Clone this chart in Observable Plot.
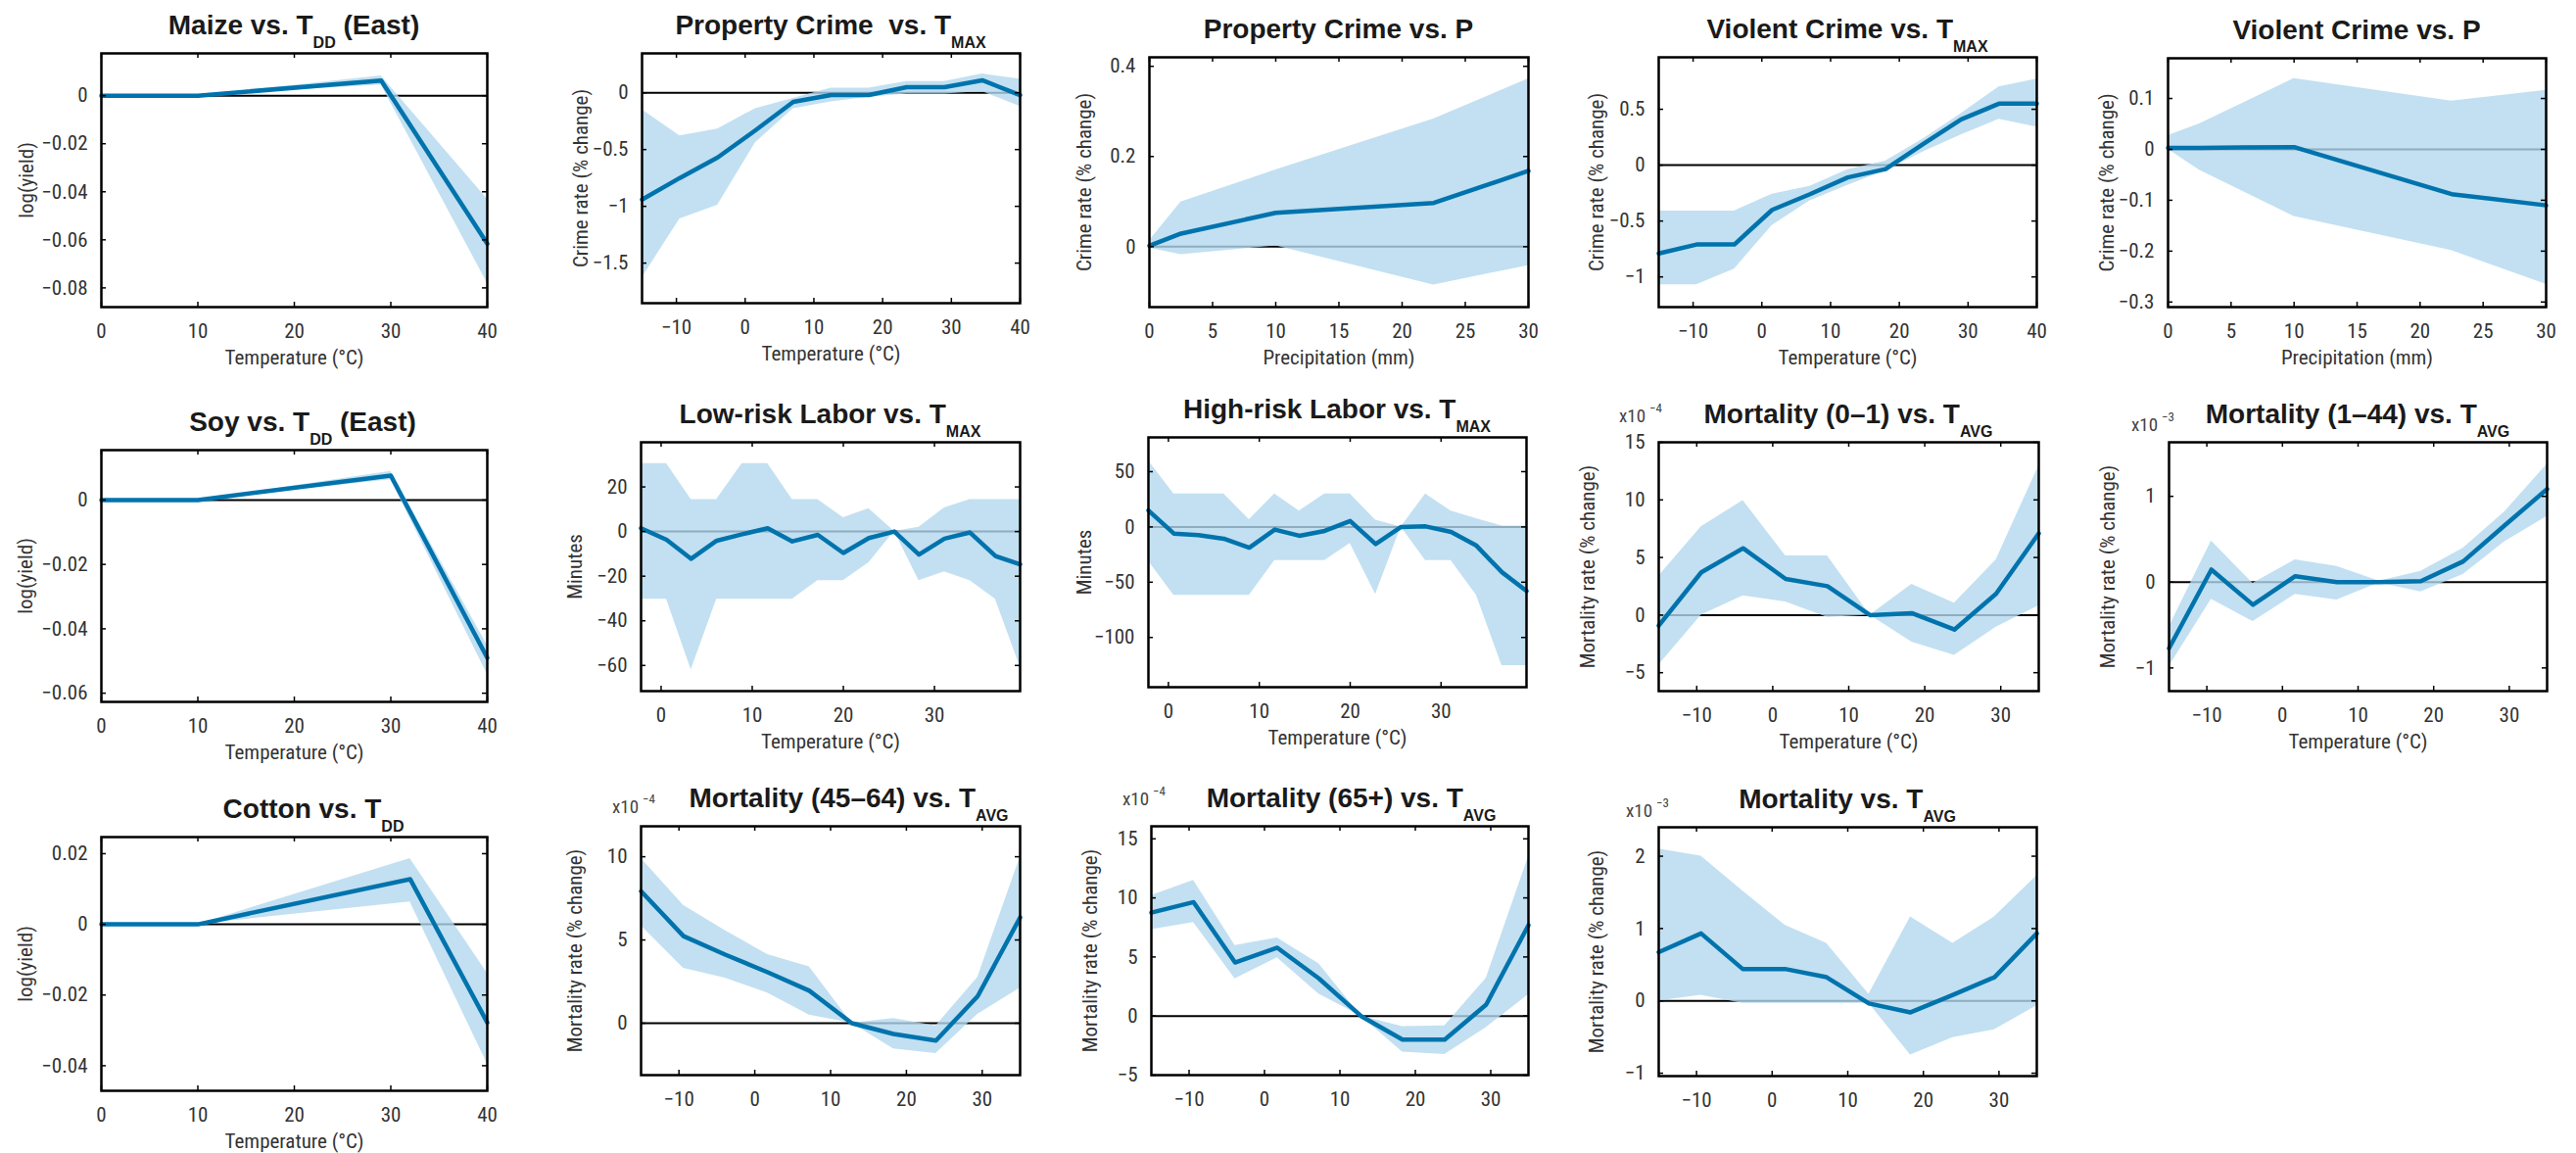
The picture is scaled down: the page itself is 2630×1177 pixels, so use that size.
<!DOCTYPE html>
<html><head><meta charset="utf-8">
<script src="https://cdn.jsdelivr.net/npm/d3@7"></script>
<script src="https://cdn.jsdelivr.net/npm/@observablehq/plot@0.6"></script>
<style>
html,body{margin:0;padding:0;background:#fff;}
#page{position:relative;width:2630px;height:1177px;overflow:hidden;background:#fff;}
.panel{position:absolute;}
#overlay{position:absolute;left:0;top:0;pointer-events:none;}
</style></head><body><div id="page"></div>
<script>
// ---------- data ----------
// Crops: temperature (degree-days) response
const maizeX = [0, 10, 29, 40];
const maizeY = [0, 0, 0.0063, -0.0616];
const maizeLo = [0, 0, 0.0045, -0.078];
const maizeHi = [0, 0, 0.0082, -0.043];

const soyX = [0, 10, 30, 40];
const soyY = [0, 0, 0.0076, -0.049];
const soyLo = [0, 0, 0.0063, -0.0541];
const soyHi = [0, 0, 0.0089, -0.0451];

const cottonX = [0, 10, 32, 40];
const cottonY = [0, 0, 0.0128, -0.0278];
const cottonLo = [0, 0, 0.0063, -0.0395];
const cottonHi = [0, 0, 0.0186, -0.0138];

// Crime
const tmaxX = [-15, -9.5, -4, 1.5, 7, 12.5, 18, 23.5, 29, 34.5, 40];
const propTY = [-0.94, -0.75, -0.57, -0.33, -0.08, -0.02, -0.02, 0.05, 0.05, 0.11, -0.02];
const propTLo = [-1.63, -1.11, -0.99, -0.44, -0.14, -0.08, -0.04, -0.01, -0.01, 0.01, -0.12];
const propTHi = [-0.15, -0.38, -0.32, -0.14, -0.05, 0.04, 0.04, 0.10, 0.10, 0.165, 0.12];

const precX = [0, 2.5, 10, 22.5, 30];
const propPY = [0.002, 0.029, 0.075, 0.097, 0.168];
const propPLo = [-0.003, -0.018, 0.002, -0.085, -0.042];
const propPHi = [0.013, 0.099, 0.170, 0.283, 0.372];

const violTY = [-0.79, -0.71, -0.71, -0.40, -0.26, -0.11, -0.035, 0.19, 0.41, 0.55, 0.55];
const violTLo = [-1.07, -1.07, -0.93, -0.54, -0.32, -0.18, -0.05, 0.12, 0.27, 0.41, 0.34];
const violTHi = [-0.41, -0.41, -0.41, -0.26, -0.19, -0.04, 0.035, 0.235, 0.46, 0.70, 0.77];

const violPY = [0.003, 0.003, 0.0045, -0.088, -0.110];
const violPLo = [0, -0.041, -0.132, -0.199, -0.265];
const violPHi = [0.027, 0.050, 0.139, 0.095, 0.116];

// Labor (minutes)
const laborX = [-2.2, 0.6, 3.3, 6.1, 8.9, 11.7, 14.4, 17.2, 20.0, 22.8, 25.6, 28.3, 31.1, 33.9, 36.7, 39.4];
const lowY = [1.5, -3.7, -12.2, -4.1, -1.2, 1.5, -4.4, -1.5, -9.6, -2.9, 0, -10.3, -3.2, -0.4, -11, -14.7];
const lowLo = [-30.4, -30.4, -62, -30.4, -30.4, -30.4, -30.4, -22, -22, -14, 0, -22, -18, -22, -30.4, -60.6];
const lowHi = [30.4, 30.4, 14.3, 14.3, 30.4, 30.4, 14.3, 14.3, 6.2, 10.3, 0, 1.9, 10.6, 14.3, 14.3, 14.3];

const highY = [14.9, -6, -7.4, -10.7, -18.8, -2.4, -8, -3.6, 5.4, -15.5, 0, 0.5, -4.5, -17, -41, -58];
const highLo = [-31, -62, -62, -62, -62, -30.4, -30.4, -30.4, -15, -61, 0, -30.4, -30.4, -62, -125.6, -125.6];
const highHi = [60, 29.8, 29.8, 29.8, 6.5, 29.8, 14.3, 29.8, 29.8, 6, 0, 29.8, 14.3, 7.4, 0.9, 0.9];

// Mortality (values in the axis multiplier units shown on each panel)
const tavgX = [-15, -9.4, -3.9, 1.7, 7.2, 12.8, 18.3, 23.9, 29.4, 35];
const m01Y = [-0.91, 3.71, 5.8, 3.14, 2.51, 0, 0.17, -1.26, 1.86, 7.09];
const m01Lo = [-4.34, 0, 1.66, 1.14, -0.2, 0, -2.34, -3.49, -1.06, 0.8];
const m01Hi = [3.37, 7.66, 9.94, 5.14, 5.14, 0, 2.66, 1.03, 4.8, 12.94];

const m144Y = [-0.77, 0.146, -0.264, 0.069, 0, 0, 0.011, 0.241, 0.663, 1.084];
const m144Lo = [-0.985, -0.2, -0.46, -0.142, -0.207, -0.008, -0.115, 0.088, 0.471, 0.766];
const m144Hi = [-0.525, 0.479, -0.015, 0.26, 0.184, 0.011, 0.126, 0.395, 0.82, 1.372];

const m4564Y = [7.93, 5.23, 4.12, 3.06, 1.95, 0, -0.65, -1.05, 1.62, 6.35];
const m4564Lo = [5.86, 3.29, 2.7, 1.81, 0.49, 0, -1.54, -1.83, 0.53, 2.11];
const m4564Hi = [9.9, 7.08, 5.56, 4.12, 3.39, 0, 0.28, -0.16, 2.74, 9.96];

const m65Y = [8.75, 9.64, 4.53, 5.78, 3.19, 0, -2, -2, 0.97, 7.69];
const m65Lo = [7.31, 7.92, 3.14, 4.92, 1.86, 0, -3.06, -3.25, -0.97, 1.8];
const m65Hi = [10.19, 11.47, 5.97, 6.61, 4.44, 0, -0.89, -0.83, 3.19, 13.47];

const mAllY = [0.673, 0.932, 0.441, 0.441, 0.327, -0.036, -0.159, 0.082, 0.327, 0.932];
const mAllLo = [0, 0.077, -0.036, -0.036, -0.036, -0.036, -0.75, -0.51, -0.4, -0.068];
const mAllHi = [2.1, 2.0, 1.52, 1.045, 0.795, 0.09, 1.16, 0.795, 1.16, 1.73];

// Tick values
const ticksT40 = [0, 10, 20, 30, 40];
const ticksTmax = [-10, 0, 10, 20, 30, 40];
const ticksP = [0, 5, 10, 15, 20, 25, 30];
const ticksLabor = [0, 10, 20, 30];
const ticksTavg = [-10, 0, 10, 20, 30];

// Text
const tempLabel = "Temperature (°C)";
const precLabel = "Precipitation (mm)";
const yieldLabel = "log(yield)";
const crimeLabel = "Crime rate (% change)";
const minutesLabel = "Minutes";
const mortLabel = "Mortality rate (% change)";

// ---------- panels ----------
const panels = [
  {title:["Maize vs. T","DD"," (East)"], x:maizeX, y:maizeY, lo:maizeLo, hi:maizeHi, xd:[0,40], yd:[-0.088,0.0176], xt:ticksT40, yt:[-0.08,-0.06,-0.04,-0.02,0], xl:tempLabel, yl:yieldLabel, box:[103,497,54,313], ylo:76, tdx:0},
  {title:["Property Crime  vs. T","MAX"], x:tmaxX, y:propTY, lo:propTLo, hi:propTHi, xd:[-15,40], yd:[-1.853,0.347], xt:ticksTmax, yt:[-1.5,-1,-0.5,0], xl:tempLabel, yl:crimeLabel, box:[655,1041,54,309], ylo:62, tdx:0},
  {title:["Property Crime vs. P"], x:precX, y:propPY, lo:propPLo, hi:propPHi, xd:[0,30], yd:[-0.134,0.42], xt:ticksP, yt:[0,0.2,0.4], xl:precLabel, yl:crimeLabel, box:[1173,1560,58,313], ylo:66, tdx:0},
  {title:["Violent Crime vs. T","MAX"], x:tmaxX, y:violTY, lo:violTLo, hi:violTHi, xd:[-15,40], yd:[-1.27,0.965], xt:ticksTmax, yt:[-1,-0.5,0,0.5], xl:tempLabel, yl:crimeLabel, box:[1693,2079,58,313], ylo:63, tdx:0},
  {title:["Violent Crime vs. P"], x:precX, y:violPY, lo:violPLo, hi:violPHi, xd:[0,30], yd:[-0.31,0.179], xt:ticksP, yt:[-0.3,-0.2,-0.1,0,0.1], xl:precLabel, yl:crimeLabel, box:[2213,2599,59,313], ylo:62, tdx:0},
  {title:["Soy vs. T","DD"," (East)"], x:soyX, y:soyY, lo:soyLo, hi:soyHi, xd:[0,40], yd:[-0.0627,0.0155], xt:ticksT40, yt:[-0.06,-0.04,-0.02,0], xl:tempLabel, yl:yieldLabel, box:[103,497,459,716], ylo:77, tdx:9},
  {title:["Low-risk Labor vs. T","MAX"], x:laborX, y:lowY, lo:lowLo, hi:lowHi, xd:[-2.2,39.4], yd:[-71.5,40], xt:ticksLabor, yt:[-60,-40,-20,0,20], xl:tempLabel, yl:minutesLabel, box:[654,1041,451,705], ylo:67, tdx:0},
  {title:["High-risk Labor vs. T","MAX"], x:laborX, y:highY, lo:highLo, hi:highHi, xd:[-2.2,39.4], yd:[-145,81], xt:ticksLabor, yt:[-100,-50,0,50], xl:tempLabel, yl:minutesLabel, box:[1172,1558,446,701], ylo:65, tdx:0},
  {title:["Mortality (0–1) vs. T","AVG"], x:tavgX, y:m01Y, lo:m01Lo, hi:m01Hi, xd:[-15,35], yd:[-6.6,15], xt:ticksTavg, yt:[-5,0,5,10,15], xl:tempLabel, yl:mortLabel, box:[1693,2081,451,705], ylo:72, tdx:0, exp:"−4", ex:[-40,-20]},
  {title:["Mortality (1–44) vs. T","AVG"], x:tavgX, y:m144Y, lo:m144Lo, hi:m144Hi, xd:[-15,35], yd:[-1.27,1.63], xt:ticksTavg, yt:[-1,0,1], xl:tempLabel, yl:mortLabel, box:[2214,2600,451,705], ylo:62, tdx:0, exp:"−3", ex:[-38,-11]},
  {title:["Cotton vs. T","DD"], x:cottonX, y:cottonY, lo:cottonLo, hi:cottonHi, xd:[0,40], yd:[-0.0471,0.0247], xt:ticksT40, yt:[-0.04,-0.02,0,0.02], xl:tempLabel, yl:yieldLabel, box:[103,497,854,1113], ylo:77, tdx:20},
  {title:["Mortality (45–64) vs. T","AVG"], x:tavgX, y:m4564Y, lo:m4564Lo, hi:m4564Hi, xd:[-15,35], yd:[-3.12,11.83], xt:ticksTavg, yt:[0,5,10], xl:null, yl:mortLabel, box:[654,1041,843,1097], ylo:67, tdx:19, exp:"−4", ex:[-29,-13]},
  {title:["Mortality (65+) vs. T","AVG"], x:tavgX, y:m65Y, lo:m65Lo, hi:m65Hi, xd:[-15,35], yd:[-5,16.06], xt:ticksTavg, yt:[-5,0,5,10,15], xl:null, yl:mortLabel, box:[1175,1560,843,1097], ylo:62, tdx:12, exp:"−4", ex:[-29,-21]},
  {title:["Mortality vs. T","AVG"], x:tavgX, y:mAllY, lo:mAllLo, hi:mAllHi, xd:[-15,35], yd:[-1.04,2.4], xt:ticksTavg, yt:[-1,0,1,2], xl:null, yl:mortLabel, box:[1693,2079,844,1098], ylo:63, tdx:0, exp:"−3", ex:[-33,-10]}
];

// ---------- choose a condensed face for the small text, if one is installed ----------
const BASE = '"Liberation Sans", Arial, sans-serif';
function pickFont() {
  const cands = [
    ['"Liberation Sans Narrow"', 'normal'],
    ['"Noto Sans"', 'condensed'],
    ['"Noto Sans"', 'semi-condensed'],
    ['"Open Sans"', 'condensed'],
    ['"Open Sans"', 'semi-condensed'],
    ['"DejaVu Sans Condensed"', 'normal'],
    ['"DejaVu Sans"', 'condensed'],
    ['"Noto Sans Condensed"', 'normal'],
    ['"Roboto Condensed"', 'normal'],
    ['Roboto', 'condensed']
  ];
  const ns = "http://www.w3.org/2000/svg";
  const s = document.createElementNS(ns, "svg");
  s.setAttribute("width", 10); s.setAttribute("height", 10);
  s.style.position = "absolute"; s.style.visibility = "hidden";
  document.body.appendChild(s);
  const sample = "Temperature (°C) Mortality rate 0123456789";
  const w = (fam, st) => {
    const t = document.createElementNS(ns, "text");
    t.textContent = sample;
    t.style.fontFamily = fam; t.style.fontStretch = st; t.style.fontSize = "100px";
    s.appendChild(t);
    const L = t.getComputedTextLength();
    s.removeChild(t);
    return L;
  };
  const ref = w(BASE, "normal");
  let best = {family: BASE, stretch: "normal", r: 1};
  for (const [f, st] of cands) {
    const fam = f + ", " + BASE;
    const r = w(fam, st) / ref;
    if (r < 0.96 && r > 0.7 && Math.abs(r - 0.85) < Math.abs(best.r - 0.85)) best = {family: fam, stretch: st, r};
  }
  document.body.removeChild(s);
  return best;
}
const picked = pickFont();
const FONT = picked.family, STRETCH = picked.stretch;
const TITLEFONT = BASE;

const LINE = "#0073ad", BAND = "#b3d8ee", TXT = "#333";
const fmt = d3.format("");
const page = document.getElementById("page");
const mL = 110, mR = 20, mT = 10, mB = 75;

for (const p of panels) {
  const W = p.box[1] - p.box[0], H = p.box[3] - p.box[2];
  const rows = p.x.map((x, i) => ({x, y: p.y[i], lo: p.lo[i], hi: p.hi[i]}));
  const marks = [
    Plot.ruleY([0], {stroke: "#000", strokeWidth: 2}),
    Plot.area(rows, {x1: "x", y1: "lo", y2: "hi", fill: BAND, fillOpacity: 0.8}),
    Plot.line(rows, {x: "x", y: "y", stroke: LINE, strokeWidth: 4.5}),
    Plot.frame({stroke: "#000", strokeWidth: 2.5}),
    Plot.tickX(p.xt, {x: d => d, insetTop: H - 5, stroke: "#000", strokeWidth: 1.5}),
    Plot.tickX(p.xt, {x: d => d, insetBottom: H - 5, stroke: "#000", strokeWidth: 1.5}),
    Plot.tickY(p.yt, {y: d => d, insetRight: W - 5, stroke: "#000", strokeWidth: 1.5}),
    Plot.tickY(p.yt, {y: d => d, insetLeft: W - 5, stroke: "#000", strokeWidth: 1.5}),
    Plot.axisX(p.xt, {tickSize: 0, tickPadding: 17, fontSize: 21, fill: TXT, tickFormat: fmt, label: null}),
    Plot.axisY(p.yt, {tickSize: 0, tickPadding: 14, fontSize: 21, fill: TXT, tickFormat: fmt, label: null}),
    Plot.text([p.yl], {text: d => d, frameAnchor: "left", dx: -p.ylo, rotate: -90, fontSize: 21, fill: TXT, lineAnchor: "middle", textAnchor: "middle"})
  ];
  if (p.xl) marks.push(Plot.text([p.xl], {text: d => d, frameAnchor: "bottom", dy: 52, fontSize: 21, fill: TXT, lineAnchor: "middle", textAnchor: "middle"}));
  const chart = Plot.plot({
    width: W + mL + mR, height: H + mT + mB,
    marginLeft: mL, marginRight: mR, marginTop: mT, marginBottom: mB,
    style: {background: "transparent", overflow: "visible"},
    x: {domain: p.xd, label: null},
    y: {domain: p.yd, label: null},
    marks
  });
  chart.style.fontFamily = FONT;
  chart.style.fontStretch = STRETCH;
  const div = document.createElement("div");
  div.className = "panel";
  div.style.left = (p.box[0] - mL) + "px";
  div.style.top = (p.box[2] - mT) + "px";
  div.style.width = (W + mL + mR) + "px";
  div.appendChild(chart);
  page.appendChild(div);
}

// ---------- titles and axis multipliers ----------
const svg = d3.select(page).append("svg").attr("id", "overlay").attr("width", 2630).attr("height", 1177);
for (const p of panels) {
  const cx = (p.box[0] + p.box[1]) / 2 + p.tdx;
  const t = svg.append("text").attr("x", cx).attr("y", p.box[2] - 19)
    .attr("text-anchor", "middle").style("font-family", TITLEFONT).attr("font-weight", 700)
    .attr("font-size", 28).attr("fill", "#1a1a1a").style("white-space", "pre");
  t.append("tspan").text(p.title[0]);
  if (p.title[1]) {
    t.append("tspan").attr("font-size", 16).attr("dy", 14).text(p.title[1]);
    if (p.title[2]) t.append("tspan").attr("font-size", 28).attr("dy", -14).text(p.title[2]);
  }
  if (p.exp) {
    const e = svg.append("text").attr("x", p.box[0] + p.ex[0]).attr("y", p.box[2] + p.ex[1])
      .style("font-family", FONT).style("font-stretch", STRETCH).attr("font-size", 19).attr("fill", "#444");
    e.append("tspan").text("x10");
    e.append("tspan").attr("font-size", 13).attr("dx", 4).attr("dy", -10).text(p.exp);
  }
}
</script>
</body></html>
